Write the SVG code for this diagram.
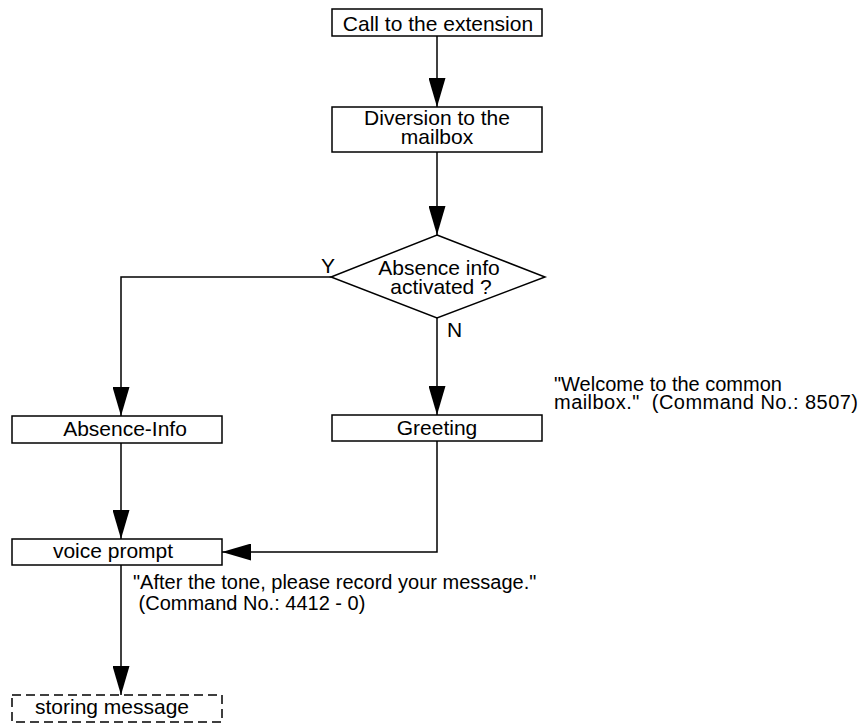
<svg xmlns="http://www.w3.org/2000/svg" width="863" height="724" viewBox="0 0 863 724">
  <style>
    .box { fill: #fff; stroke: #000; stroke-width: 1.5; }
    .dash { fill: #fff; stroke: #000; stroke-width: 1.5; stroke-dasharray: 9 5; }
    .edge { fill: none; stroke: #000; stroke-width: 1.5; }
    text { font-family: "Liberation Sans", Arial, Helvetica, sans-serif; font-size: 21px; fill: #000; }
    .c { text-anchor: middle; }
    .note { white-space: pre; font-size: 20px; }
  </style>
  <defs>
    <marker id="arrow" viewBox="0 0 29 17" markerWidth="29" markerHeight="17" refX="29" refY="8.5" orient="auto" markerUnits="userSpaceOnUse">
      <path d="M0,0 L29,8.5 L0,17 Z" fill="#000"/>
    </marker>
  </defs>
  <rect width="863" height="724" fill="#fff"/>

  <!-- connectors -->
  <g id="connectors">
    <path class="edge" d="M437,36 V107" marker-end="url(#arrow)"/>
    <path class="edge" d="M437,152 V235" marker-end="url(#arrow)"/>
    <path class="edge" d="M331,277 H121 V416" marker-end="url(#arrow)"/>
    <path class="edge" d="M437,318 V415" marker-end="url(#arrow)"/>
    <path class="edge" d="M121,443 V539" marker-end="url(#arrow)"/>
    <path class="edge" d="M437,441 V552 H222" marker-end="url(#arrow)"/>
    <path class="edge" d="M121,565 V695" marker-end="url(#arrow)"/>
    <text x="321" y="273">Y</text>
    <text x="447" y="337">N</text>
  </g>

  <g id="call">
    <rect class="box" x="332" y="9" width="210" height="27"/>
    <text class="c" x="438" y="31">Call to the extension</text>
  </g>

  <g id="diversion">
    <rect class="box" x="332" y="107" width="210" height="45"/>
    <text class="c" x="437" y="125">Diversion to the</text>
    <text class="c" x="437" y="144">mailbox</text>
  </g>

  <g id="decision">
    <polygon class="box" points="437,235 545,277 437,318 331,277"/>
    <text class="c" x="439" y="275">Absence info</text>
    <text class="c" x="441" y="294">activated ?</text>
  </g>

  <g id="absence-info">
    <rect class="box" x="12" y="416" width="210" height="27"/>
    <text class="c" x="125" y="436">Absence-Info</text>
  </g>

  <g id="greeting">
    <rect class="box" x="332" y="415" width="210" height="26"/>
    <text class="c" x="437" y="435">Greeting</text>
  </g>

  <g id="greeting-note">
    <text class="note" x="554" y="391">"Welcome to the common</text>
    <text class="note" x="554" y="409" textLength="304" lengthAdjust="spacing">mailbox."  (Command No.: 8507)</text>
  </g>

  <g id="voice-prompt">
    <rect class="box" x="12" y="539" width="210" height="26"/>
    <text class="c" x="113" y="558">voice prompt</text>
  </g>

  <g id="prompt-note">
    <text class="note" x="133" y="589">"After the tone, please record your message."</text>
    <text class="note" x="133" y="610"> (Command No.: 4412 - 0)</text>
  </g>

  <g id="storing">
    <rect class="dash" x="12" y="695" width="210" height="27"/>
    <text class="c" x="112" y="714">storing message</text>
  </g>
</svg>
